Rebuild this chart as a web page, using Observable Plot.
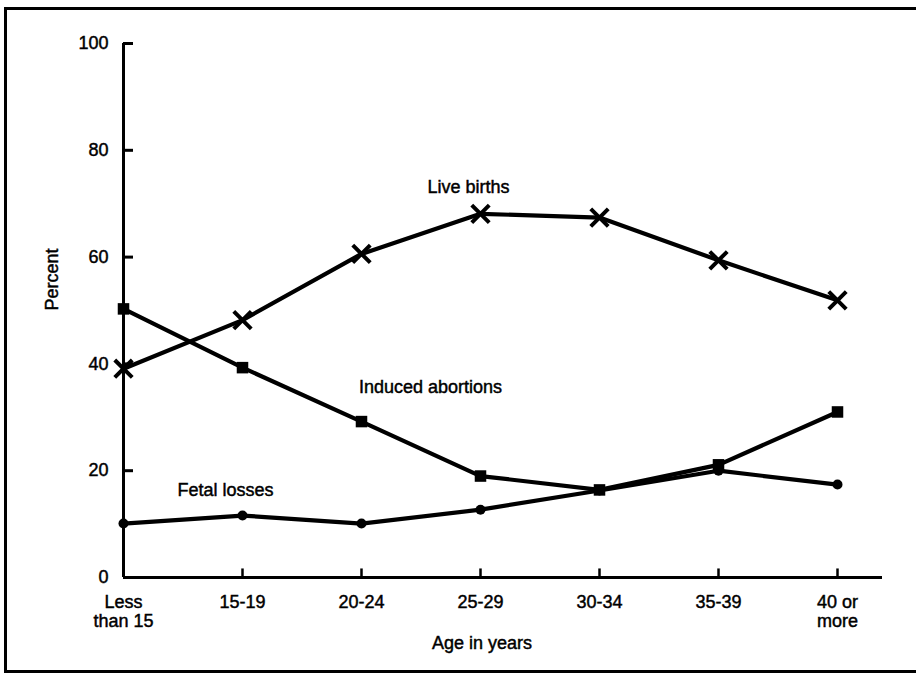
<!DOCTYPE html>
<html>
<head>
<meta charset="utf-8">
<script src="https://cdn.jsdelivr.net/npm/d3@7"></script>
<script src="https://cdn.jsdelivr.net/npm/@observablehq/plot@0.6"></script>
<style>
  html, body { margin: 0; padding: 0; background: #fff; }
  #wrap { position: relative; width: 916px; height: 673px; overflow: hidden; }
  #border { position: absolute; left: 4px; top: 7px; width: 1000px; height: 660px;
            border-left: 3px solid #000; border-top: 3px solid #000; border-bottom: 3px solid #000; }
  #chart { position: absolute; left: 0; top: 0; }
  #chart svg text { font-family: "Liberation Sans", Arial, sans-serif; stroke: #000; stroke-width: 0.45px; }
</style>
</head>
<body>
<div id="wrap"><div id="border"></div><div id="chart"></div></div>
<script>
const ages = ["Less than 15", "15-19", "20-24", "25-29", "30-34", "35-39", "40 or more"];
const ageLabels = ["Less\nthan 15", "15-19", "20-24", "25-29", "30-34", "35-39", "40 or\nmore"];
const liveBirths = [39.1, 48.2, 60.6, 68.1, 67.4, 59.4, 51.9];
const inducedAbortions = [50.3, 39.3, 29.2, 19.0, 16.4, 21.1, 31.0];
const fetalLosses = [10.1, 11.6, 10.1, 12.7, 16.3, 20.0, 17.4];
const yTicks = [0, 20, 40, 60, 80, 100];

const series = [
  {name: "Live births", values: liveBirths},
  {name: "Induced abortions", values: inducedAbortions},
  {name: "Fetal losses", values: fetalLosses}
];
const rows = series.flatMap(s => s.values.map((v, i) => ({series: s.name, age: ages[i], value: v})));
const byName = name => rows.filter(d => d.series === name);

const seriesLabels = [
  {text: "Live births", age: "25-29", value: 73.0, dx: -12},
  {text: "Induced abortions", age: "20-24", value: 35.6, dx: 69},
  {text: "Fetal losses", age: "15-19", value: 16.3, dx: -17}
];

const chart = Plot.plot({
  width: 916,
  height: 673,
  marginLeft: 123,
  marginRight: 34,
  marginTop: 43,
  marginBottom: 96,
  style: {fontSize: "18px", fontFamily: "Liberation Sans, Arial, sans-serif", color: "#000", background: "transparent"},
  x: {type: "point", domain: ages, range: [123, 837], padding: 0},
  y: {domain: [0, 100]},
  marks: [
    Plot.ruleY([0], {stroke: "#000", strokeWidth: 3}),
    Plot.ruleX([ages[0]], {y1: 0, y2: 100, stroke: "#000", strokeWidth: 3}),
    Plot.ruleX(ages.slice(1), {y1: 0, y2: 1.6, stroke: "#000", strokeWidth: 2.5}),
    Plot.axisY({ticks: yTicks.slice(1), tickSize: -10, strokeWidth: 3, tickFormat: () => "", label: null}),
    Plot.axisY({ticks: yTicks, tickSize: 0, tickPadding: 15, label: null, fontSize: 18}),
    Plot.axisX({tickSize: 0, tickPadding: 16, label: null, fontSize: 18, lineHeight: 1.1,
                tickFormat: d => ageLabels[ages.indexOf(d)]}),
    Plot.text(["Percent"], {frameAnchor: "left", dx: -71, rotate: -90, fontSize: 18}),
    Plot.text(["Age in years"], {frameAnchor: "bottom", dx: -21, dy: 71, fontSize: 18}),
    ...series.map(s => Plot.line(byName(s.name), {x: "age", y: "value", stroke: "#000", strokeWidth: 4.2})),
    Plot.dot(byName("Live births"), {x: "age", y: "value", symbol: "times", r: 8, stroke: "#000", strokeWidth: 4}),
    Plot.dot(byName("Induced abortions"), {x: "age", y: "value", symbol: "square", r: 6.5, fill: "#000"}),
    Plot.dot(byName("Fetal losses"), {x: "age", y: "value", symbol: "circle", r: 5, fill: "#000"}),
    ...seriesLabels.map(l => Plot.text([l], {x: "age", y: "value", text: "text", dx: l.dx, fontSize: 18}))
  ]
});
document.getElementById("chart").appendChild(chart);
</script>
</body>
</html>
